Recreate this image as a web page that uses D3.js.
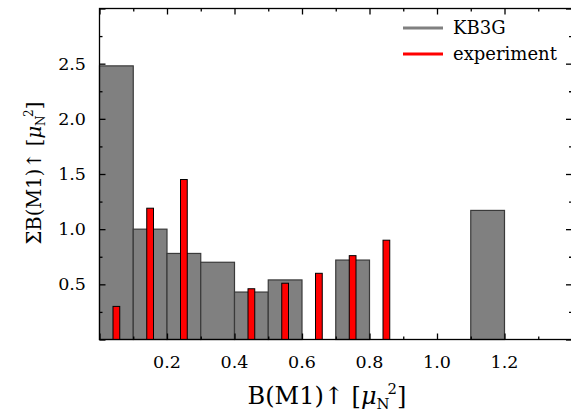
<!DOCTYPE html>
<html><head><meta charset="utf-8">
<script src="https://cdn.jsdelivr.net/npm/d3@7"></script>
<style>body{margin:0;background:#fff}svg{display:block}text{font-family:"DejaVu Serif",serif}</style>
</head><body>
<svg id="c" width="571" height="414"></svg>
<script>
// KB3G histogram (bin width 0.1)
const binStarts = [0.0, 0.1, 0.2, 0.3, 0.4, 0.5, 0.7, 1.1];
const kb3gValues = [2.48, 1.00, 0.78, 0.70, 0.43, 0.54, 0.72, 1.17];
// experiment (narrow bars at bin centres)
const expCenters = [0.05, 0.15, 0.25, 0.45, 0.55, 0.65, 0.75, 0.85];
const expValues = [0.30, 1.19, 1.45, 0.46, 0.51, 0.60, 0.76, 0.90];
const xTickLabels = [0.2, 0.4, 0.6, 0.8, 1.0, 1.2];
const yTickLabels = [0.5, 1.0, 1.5, 2.0, 2.5];
const binWidth = 0.1, expWidth = 0.02;

const svg = d3.select("#c");
const L = 99.5, R = 572, T = 8.5, B = 339.5;
const x = d3.scaleLinear().domain([0, 1.4]).range([L, R]);
const y = d3.scaleLinear().domain([0, 3]).range([B, T]);

// gray bars
svg.append("g").selectAll("rect").data(binStarts).join("rect")
  .attr("x", d => x(d)).attr("width", d => x(d + binWidth) - x(d))
  .attr("y", (d, i) => y(kb3gValues[i])).attr("height", (d, i) => y(0) - y(kb3gValues[i]))
  .attr("fill", "#808080").attr("stroke", "#3a3a3a").attr("stroke-width", 1.2);

// red bars
svg.append("g").selectAll("rect").data(expCenters).join("rect")
  .attr("x", d => x(d - expWidth / 2)).attr("width", d => x(d + expWidth / 2) - x(d - expWidth / 2))
  .attr("y", (d, i) => y(expValues[i])).attr("height", (d, i) => y(0) - y(expValues[i]))
  .attr("fill", "#ff0000").attr("stroke", "#000").attr("stroke-width", 1);

// frame
svg.append("rect").attr("x", L).attr("y", T).attr("width", R - L).attr("height", B - T)
  .attr("fill", "none").attr("stroke", "#000").attr("stroke-width", 1.3);

const fmt = d3.format(".1f");
const xMajor = d3.range(0, 1.41, 0.2), xMinor = d3.range(0.1, 1.4, 0.2);
const yMajor = d3.range(0, 3.01, 0.5), yMinor = d3.range(0.25, 3, 0.5);
function axisTicks(axisGen, transform) {
  const g = svg.append("g").attr("transform", transform).call(axisGen);
  g.select(".domain").remove();
  g.selectAll("line").attr("stroke", "#000").attr("stroke-width", 1.3);
  g.selectAll("text").remove();
  return g;
}
// bottom & top
axisTicks(d3.axisTop(x).tickValues(xMajor).tickSize(6), `translate(0,${B})`);
axisTicks(d3.axisTop(x).tickValues(xMinor).tickSize(3), `translate(0,${B})`);
axisTicks(d3.axisBottom(x).tickValues(xMajor).tickSize(6), `translate(0,${T})`);
axisTicks(d3.axisBottom(x).tickValues(xMinor).tickSize(3), `translate(0,${T})`);
// left & right
axisTicks(d3.axisRight(y).tickValues(yMajor).tickSize(6), `translate(${L},0)`);
axisTicks(d3.axisRight(y).tickValues(yMinor).tickSize(3), `translate(${L},0)`);
axisTicks(d3.axisLeft(y).tickValues(yMajor).tickSize(6), `translate(${R},0)`);
axisTicks(d3.axisLeft(y).tickValues(yMinor).tickSize(3), `translate(${R},0)`);

// tick labels
svg.append("g").selectAll("text").data(xTickLabels).join("text")
  .attr("x", d => x(d)).attr("y", 368).attr("text-anchor", "middle")
  .attr("font-size", 17.5).text(d => fmt(d));
svg.append("g").selectAll("text").data(yTickLabels).join("text")
  .attr("x", 86).attr("y", d => y(d) + 6).attr("text-anchor", "end")
  .attr("font-size", 17.5).text(d => fmt(d));

function unitLabel(t, prefix, f) {
  t.append("tspan").text(prefix + " [");
  t.append("tspan").attr("font-style", "italic").text("μ");
  t.append("tspan").attr("font-size", 0.62 * f).attr("dy", 0.2 * f).text("N");
  t.append("tspan").attr("font-size", 0.62 * f).attr("dy", -0.62 * f).attr("dx", -0.08 * f).text("2");
  t.append("tspan").attr("dy", 0.42 * f).text("]");
}
// x title
const xt = svg.append("text").attr("x", 327).attr("y", 404).attr("text-anchor", "middle").attr("font-size", 24);
unitLabel(xt, "B(M1)↑", 24);
// y title
const yt = svg.append("text").attr("transform", "translate(41,173) rotate(-90)").attr("text-anchor", "middle").attr("font-size", 19.5);
unitLabel(yt, "ΣB(M1)↑", 19.5);

// legend
const legend = [{name: "KB3G", color: "#808080", yy: 28}, {name: "experiment", color: "#ff0000", yy: 54}];
const lg = svg.append("g");
legend.forEach(d => {
  lg.append("line").attr("x1", 403).attr("x2", 443).attr("y1", d.yy).attr("y2", d.yy)
    .attr("stroke", d.color).attr("stroke-width", 3);
  lg.append("text").attr("x", 453).attr("y", d.yy + 6).attr("font-size", 18).text(d.name);
});
</script>
</body></html>
